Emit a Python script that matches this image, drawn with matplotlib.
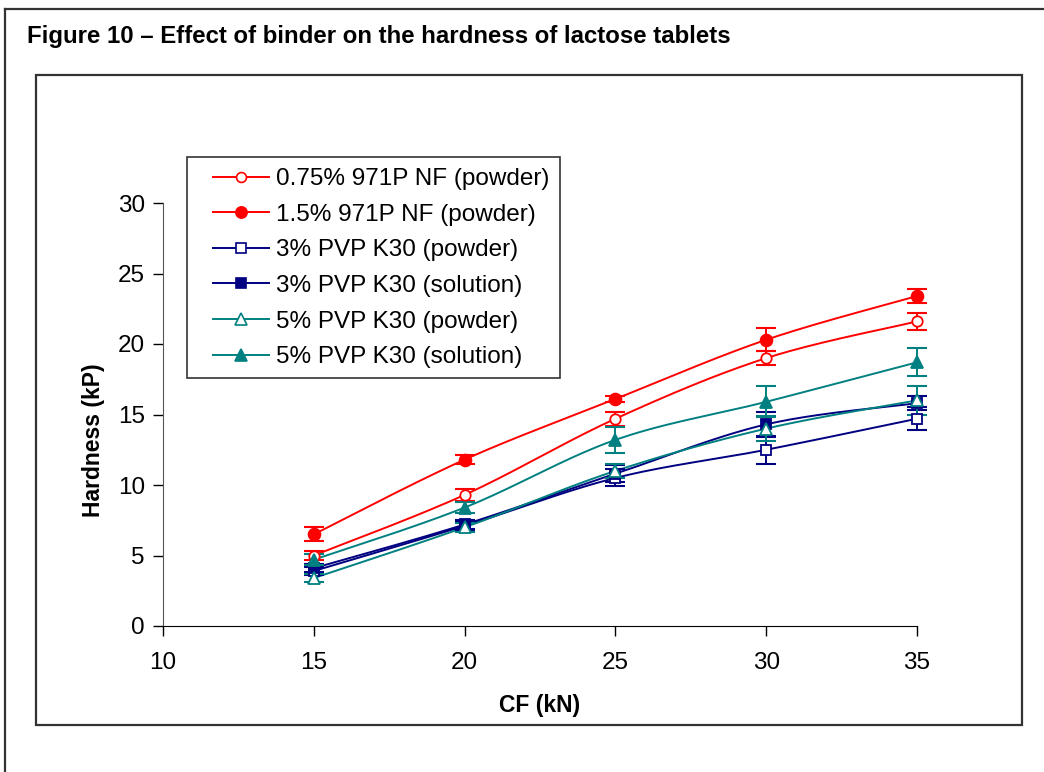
import numpy as np
import matplotlib
matplotlib.use('Agg')
import matplotlib.pyplot as plt
from matplotlib.lines import Line2D
from matplotlib.patches import Rectangle

plt.rcParams['font.family'] = ['Liberation Sans', 'DejaVu Sans']

# Compaction force (kN)
cf = [15, 20, 25, 30, 35]

# Hardness (kP) and error bars for each binder
h_971p_075 = [5.0, 9.3, 14.7, 19.0, 21.6]
e_971p_075 = [0.3, 0.4, 0.5, 0.5, 0.6]
h_971p_15 = [6.5, 11.8, 16.1, 20.3, 23.4]
e_971p_15 = [0.5, 0.3, 0.2, 0.8, 0.5]
h_pvp3_pow = [3.9, 7.1, 10.5, 12.5, 14.7]
e_pvp3_pow = [0.3, 0.3, 0.6, 1.0, 0.8]
h_pvp3_sol = [4.1, 7.2, 10.8, 14.3, 15.8]
e_pvp3_sol = [0.3, 0.3, 0.6, 0.9, 0.5]
h_pvp5_pow = [3.4, 7.0, 11.0, 14.0, 16.0]
e_pvp5_pow = [0.3, 0.3, 0.5, 0.9, 1.0]
h_pvp5_sol = [4.7, 8.4, 13.2, 15.9, 18.7]
e_pvp5_sol = [0.4, 0.4, 0.9, 1.1, 1.0]

labels = ['0.75% 971P NF (powder)', '1.5% 971P NF (powder)',
          '3% PVP K30 (powder)', '3% PVP K30 (solution)',
          '5% PVP K30 (powder)', '5% PVP K30 (solution)']

RED = '#FF0000'
NAVY = '#000080'
TEAL = '#008080'

series = [
    (h_971p_075, e_971p_075, RED, 'o', 'white', 7.5),
    (h_971p_15, e_971p_15, RED, 'o', RED, 8.5),
    (h_pvp3_pow, e_pvp3_pow, NAVY, 's', 'white', 7),
    (h_pvp3_sol, e_pvp3_sol, NAVY, 's', NAVY, 7),
    (h_pvp5_pow, e_pvp5_pow, TEAL, '^', 'white', 8.5),
    (h_pvp5_sol, e_pvp5_sol, TEAL, '^', TEAL, 9),
]


def smooth(x, y, n=40):
    # Excel-style smoothed line: cubic Bezier through the points
    p = np.column_stack([x, y]).astype(float)
    out = []
    for i in range(len(p) - 1):
        p0 = p[i - 1] if i > 0 else p[i]
        p1 = p[i]
        p2 = p[i + 1]
        p3 = p[i + 2] if i + 2 < len(p) else p[i + 1]
        c1 = p1 + (p2 - p0) / 6.0
        c2 = p2 - (p3 - p1) / 6.0
        t = np.linspace(0, 1, n)[:, None]
        seg = ((1 - t) ** 3) * p1 + 3 * ((1 - t) ** 2) * t * c1 \
            + 3 * (1 - t) * t ** 2 * c2 + t ** 3 * p2
        out.append(seg if i == 0 else seg[1:])
    s = np.vstack(out)
    return s[:, 0], s[:, 1]


W, H = 1044, 772
fig = plt.figure(figsize=(W / 100, H / 100), dpi=100)

# outer frame (runs off the page on the right and bottom) and chart box
fig.add_artist(Line2D([5 / W, 1.0], [1 - 9 / H, 1 - 9 / H],
                      transform=fig.transFigure, color='#333333', lw=1.6))
fig.add_artist(Line2D([5 / W, 5 / W], [0.0, 1 - 9 / H],
                      transform=fig.transFigure, color='#333333', lw=1.6))
fig.add_artist(Rectangle((36 / W, 1 - 725 / H), (1022 - 36) / W,
                         (725 - 75) / H, transform=fig.transFigure,
                         fill=False, edgecolor='#333333', lw=1.6))

fig.text(27 / W, 1 - 36 / H,
         'Figure 10 \u2013 Effect of binder on the hardness of lactose tablets',
         fontsize=17.3, fontweight='bold', ha='left', va='center')

ax = fig.add_axes([163 / W, 1 - 626 / H, (917 - 163) / W, (626 - 203) / H])

handles = []
for (h, e, col, mk, mfc, ms), lab in zip(series, labels):
    xs, ys = smooth(cf, h)
    ax.plot(xs, ys, color=col, lw=1.4, zorder=2)
    ax.errorbar(cf, h, yerr=e, fmt='none', ecolor=col, elinewidth=1.4,
                capsize=7, capthick=1.5, zorder=3, clip_on=False)
    ax.plot(cf, h, linestyle='none', marker=mk, markersize=ms,
            markerfacecolor=mfc, markeredgecolor=col, markeredgewidth=1.3,
            zorder=4, clip_on=False)
    handles.append(Line2D([], [], color=col, lw=1.4, marker=mk,
                          markersize=ms * 0.95, markerfacecolor=mfc,
                          markeredgecolor=col, markeredgewidth=1.2))

ax.set_xlim(10, 35)
ax.set_ylim(0, 30)
ax.set_xticks([10, 15, 20, 25, 30, 35])
ax.set_yticks([0, 5, 10, 15, 20, 25, 30])
ax.spines['top'].set_visible(False)
ax.spines['right'].set_visible(False)
ax.spines['left'].set_color('#555555')
ax.spines['bottom'].set_color('black')
ax.tick_params(axis='both', direction='out', length=7, width=1,
               labelsize=17.5)
ax.tick_params(axis='x', pad=12)
ax.tick_params(axis='y', pad=6)
ax.set_xlabel('CF (kN)', fontsize=16.5, fontweight='bold')
ax.set_ylabel('Hardness (kP)', fontsize=16.5, fontweight='bold')
ax.xaxis.set_label_coords(0.5, -0.161)
ax.yaxis.set_label_coords(-0.077, 0.44)

# legend box drawn separately so the inner padding can be set freely
fig.add_artist(Rectangle((187 / W, 1 - 378 / H), (560 - 187) / W,
                         (378 - 157) / H, transform=fig.transFigure,
                         fill=True, facecolor='white', edgecolor='#333333',
                         lw=1.2, zorder=5))
leg = fig.legend(handles, labels, loc='upper left',
                 bbox_to_anchor=(213 / W, 1 - 168 / H),
                 bbox_transform=fig.transFigure, borderaxespad=0,
                 fontsize=17.5, frameon=False, handlelength=2.3,
                 handletextpad=0.28, labelspacing=0.56, borderpad=0)
leg.set_zorder(6)

fig.savefig('out.png', dpi=100)
